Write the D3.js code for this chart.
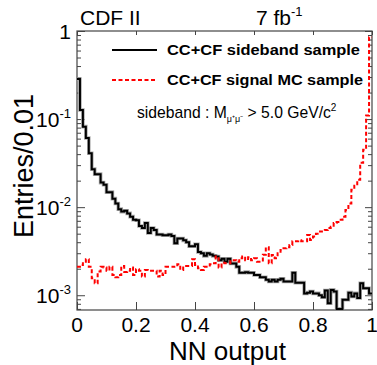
<!DOCTYPE html>
<html>
<head>
<meta charset="utf-8">
<script src="https://cdn.jsdelivr.net/npm/d3@7"></script>
<style>
  body { margin: 0; background: #fff; }
  text { font-family: "Liberation Sans", Arial, Helvetica, sans-serif; }
</style>
</head>
<body>
<div id="chart"></div>
<script>
// NN output histograms, bin width 0.01, 100 bins from 0 to 1
const binWidth = 0.01;

const sidebandValues = [
  0.285, 0.127, 0.082, 0.061, 0.041, 0.027, 0.0237, 0.0237, 0.019, 0.018,
  0.0148, 0.0148, 0.0125, 0.011, 0.0095, 0.0089, 0.0091, 0.0085, 0.0078, 0.0072,
  0.0071, 0.0061, 0.0058, 0.0066, 0.0051, 0.0058, 0.0055, 0.0049, 0.0049, 0.0048,
  0.0048, 0.0049, 0.0047, 0.0039, 0.0044, 0.0044, 0.0042, 0.0040, 0.0036, 0.0036,
  0.0038, 0.0031, 0.0030, 0.0028, 0.0030, 0.0029, 0.0028, 0.00275, 0.0025, 0.0026,
  0.0024, 0.0026, 0.0023, 0.0023, 0.0021, 0.0018, 0.0018, 0.00183, 0.0018, 0.0018,
  0.0017, 0.0017, 0.0016, 0.0016, 0.0015, 0.00143, 0.0015, 0.00143, 0.0015, 0.00154,
  0.00143, 0.00143, 0.00143, 0.0018, 0.00139, 0.00139, 0.00139, 0.00105, 0.00107, 0.0011,
  0.00105, 0.00105, 0.0010, 0.00095, 0.00113, 0.00081, 0.00115, 0.0011, 0.0007, 0.0007,
  0.00089, 0.00089, 0.00107, 0.00097, 0.00105, 0.00093, 0.00137, 0.0012, 0.0012, 0.00105
];

const signalValues = [
  0.0021, 0.0022, 0.0024, 0.00257, 0.0021, 0.00156, 0.00137, 0.00186, 0.0021, 0.00206,
  0.0019, 0.0021, 0.0017, 0.0016, 0.0017, 0.00215, 0.00184, 0.0019, 0.00206, 0.0017,
  0.00197, 0.0019, 0.00163, 0.00194, 0.0019, 0.0019, 0.0019, 0.00163, 0.0019, 0.0017,
  0.0021, 0.0021, 0.0021, 0.00211, 0.00225, 0.00194, 0.00207, 0.00215, 0.00215, 0.00257,
  0.00221, 0.00203, 0.00194, 0.0021, 0.0021, 0.00225, 0.00231, 0.00275, 0.00207, 0.00234,
  0.00231, 0.00231, 0.0025, 0.0025, 0.0024, 0.00263, 0.00275, 0.0025, 0.0027, 0.0025,
  0.00263, 0.0024, 0.0024, 0.00288, 0.0035, 0.00231, 0.00287, 0.00263, 0.003, 0.00327,
  0.00342, 0.0035, 0.00372, 0.0041, 0.0041, 0.0042, 0.0041, 0.0041, 0.00484, 0.00425,
  0.00463, 0.0050, 0.00528, 0.0053, 0.0055, 0.0058, 0.006, 0.0066, 0.0068, 0.0072,
  0.0078, 0.0093, 0.011, 0.0158, 0.0175, 0.0205, 0.032, 0.045, 0.11, 0.85
];

const xTickValues = [0, 0.2, 0.4, 0.6, 0.8, 1];
const xTickLabels = ["0", "0.2", "0.4", "0.6", "0.8", "1"];
const yMajorValues = [1e-3, 1e-2, 1e-1, 1];
const yMajorExponents = ["-3", "-2", "-1", null];

const width = 377,
      height = 365,
      plotLeft = 77,
      plotRight = 372,
      plotTop = 31,
      plotBottom = 310;

const svg = d3.select("#chart")
  .append("svg")
  .attr("width", width)
  .attr("height", height);

const x = d3.scaleLinear().domain([0, 1]).range([plotLeft, plotRight]);
const y = d3.scaleLog().domain([6.8e-4, 1]).range([plotBottom, plotTop]);

// minor ticks for the log axis
const yMinor = y.ticks().filter(v => yMajorValues.indexOf(v) < 0);

// left axis (ticks pointing inward)
svg.append("g")
  .attr("transform", `translate(${plotLeft},0)`)
  .call(d3.axisLeft(y).tickValues(yMajorValues).tickSizeInner(-8).tickSizeOuter(0).tickFormat(""))
  .call(g => g.select(".domain").remove());
svg.append("g")
  .attr("transform", `translate(${plotLeft},0)`)
  .call(d3.axisLeft(y).tickValues(yMinor).tickSizeInner(-4).tickSizeOuter(0).tickFormat(""))
  .call(g => g.select(".domain").remove());

// right axis
svg.append("g")
  .attr("transform", `translate(${plotRight},0)`)
  .call(d3.axisRight(y).tickValues(yMajorValues).tickSizeInner(-7).tickSizeOuter(0).tickFormat(""))
  .call(g => g.select(".domain").remove());
svg.append("g")
  .attr("transform", `translate(${plotRight},0)`)
  .call(d3.axisRight(y).tickValues(yMinor).tickSizeInner(-4).tickSizeOuter(0).tickFormat(""))
  .call(g => g.select(".domain").remove());

// bottom and top axes
svg.append("g")
  .attr("transform", `translate(0,${plotBottom})`)
  .call(d3.axisBottom(x).tickValues(xTickValues).tickSizeInner(-8).tickSizeOuter(0).tickFormat(""))
  .call(g => g.select(".domain").remove());
svg.append("g")
  .attr("transform", `translate(0,${plotTop})`)
  .call(d3.axisTop(x).tickValues(xTickValues).tickSizeInner(-4).tickSizeOuter(0).tickFormat(""))
  .call(g => g.select(".domain").remove());

svg.selectAll(".tick line").attr("stroke", "#444");

// frame
svg.append("rect")
  .attr("x", plotLeft)
  .attr("y", plotTop)
  .attr("width", plotRight - plotLeft)
  .attr("height", plotBottom - plotTop)
  .attr("fill", "none")
  .attr("stroke", "#444")
  .attr("stroke-width", 1.2);

// x tick labels
svg.selectAll(".xlabel")
  .data(xTickValues)
  .enter()
  .append("text")
  .attr("class", "xlabel")
  .attr("x", d => x(d))
  .attr("y", 332)
  .attr("text-anchor", "middle")
  .style("font-size", "21px")
  .text((d, i) => xTickLabels[i]);

// y tick labels
const yl = svg.selectAll(".ylabel")
  .data(yMajorValues)
  .enter()
  .append("text")
  .attr("class", "ylabel")
  .attr("x", 71)
  .attr("y", d => y(d) + 8)
  .attr("text-anchor", "end")
  .style("font-size", "21px");
yl.append("tspan").text((d, i) => yMajorExponents[i] === null ? "1" : "10");
yl.filter((d, i) => yMajorExponents[i] !== null)
  .append("tspan")
  .attr("dy", -9)
  .style("font-size", "13px")
  .text(d => yMajorExponents[yMajorValues.indexOf(d)]);

// histograms as step lines
const stepLine = d3.line()
  .x(d => x(d[0]))
  .y(d => y(d[1]))
  .curve(d3.curveStepAfter);

function steps(values) {
  const pts = values.map((v, i) => [i * binWidth, v]);
  pts.push([values.length * binWidth, values[values.length - 1]]);
  return pts;
}

svg.append("clipPath").attr("id", "plotclip")
  .append("rect")
  .attr("x", plotLeft).attr("y", plotTop)
  .attr("width", plotRight - plotLeft).attr("height", plotBottom - plotTop);

svg.append("path")
  .datum(steps(sidebandValues))
  .attr("d", stepLine)
  .attr("clip-path", "url(#plotclip)")
  .attr("fill", "none")
  .attr("stroke", "#aaa")
  .attr("stroke-width", 3.6);

svg.append("path")
  .datum(steps(sidebandValues))
  .attr("d", stepLine)
  .attr("clip-path", "url(#plotclip)")
  .attr("fill", "none")
  .attr("stroke", "#000")
  .attr("stroke-width", 2);

svg.append("path")
  .datum(steps(signalValues))
  .attr("d", stepLine)
  .attr("clip-path", "url(#plotclip)")
  .attr("fill", "none")
  .attr("stroke", "#ff0000")
  .attr("stroke-width", 2)
  .attr("stroke-dasharray", "4,2.5");

// legend
svg.append("line")
  .attr("x1", 112).attr("x2", 157).attr("y1", 50).attr("y2", 50)
  .attr("stroke", "#000").attr("stroke-width", 2);
svg.append("text")
  .attr("x", 167).attr("y", 55)
  .attr("textLength", 193).attr("lengthAdjust", "spacingAndGlyphs")
  .style("font-size", "14px").style("font-weight", "bold")
  .text("CC+CF sideband sample");

svg.append("line")
  .attr("x1", 112).attr("x2", 157).attr("y1", 80).attr("y2", 80)
  .attr("stroke", "#ff0000").attr("stroke-width", 2)
  .attr("stroke-dasharray", "4,2.5");
svg.append("text")
  .attr("x", 167).attr("y", 85)
  .attr("textLength", 196).attr("lengthAdjust", "spacingAndGlyphs")
  .style("font-size", "14px").style("font-weight", "bold")
  .text("CC+CF signal MC sample");

const cut = svg.append("text")
  .attr("x", 137).attr("y", 118)
  .style("font-size", "15.7px");
cut.append("tspan").text("sideband : M");
cut.append("tspan").attr("dy", 4).style("font-size", "9px").text("\u03bc\u207a\u03bc\u207b");
cut.append("tspan").attr("dy", -4).text(" > 5.0 GeV/c");
cut.append("tspan").attr("dy", -7).style("font-size", "10px").text("2");

// titles
svg.append("text")
  .attr("x", 80).attr("y", 25)
  .style("font-size", "21px")
  .text("CDF II");

const lumi = svg.append("text")
  .attr("x", 256).attr("y", 25)
  .style("font-size", "21px");
lumi.append("tspan").text("7 fb");
lumi.append("tspan").attr("dy", -9).style("font-size", "13px").text("-1");

// axis titles
svg.append("text")
  .attr("x", 286).attr("y", 360)
  .attr("text-anchor", "end")
  .style("font-size", "26px")
  .text("NN output");

svg.append("text")
  .attr("transform", "translate(33,238) rotate(-90)")
  .attr("text-anchor", "start")
  .style("font-size", "27px")
  .text("Entries/0.01");
</script>
</body>
</html>
